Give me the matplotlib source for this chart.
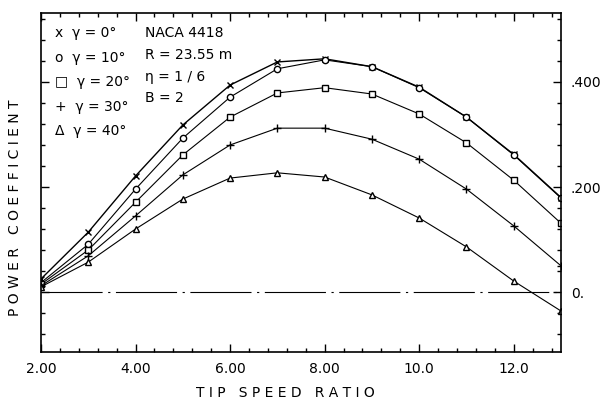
import matplotlib.pyplot as plt
from matplotlib.ticker import MultipleLocator, FixedLocator

# tip speed ratio
tsr = [2, 3, 4, 5, 6, 7, 8, 9, 10, 11, 12, 13]

# power coefficient
cp_0 = [0.025, 0.114, 0.221, 0.318, 0.394, 0.438, 0.444, 0.429, 0.390, 0.333, 0.262, 0.180]
cp_10 = [0.018, 0.091, 0.196, 0.293, 0.371, 0.425, 0.442, 0.429, 0.389, 0.333, 0.261, 0.179]
cp_20 = [0.015, 0.080, 0.171, 0.261, 0.333, 0.379, 0.389, 0.377, 0.339, 0.284, 0.213, 0.131]
cp_30 = [0.012, 0.069, 0.145, 0.223, 0.280, 0.312, 0.312, 0.291, 0.253, 0.196, 0.126, 0.050]
cp_40 = [0.010, 0.057, 0.120, 0.177, 0.217, 0.227, 0.219, 0.185, 0.141, 0.086, 0.021, -0.036]

xticks = [2, 4, 6, 8, 10, 12]
xtick_labels = ["2.00", "4.00", "6.00", "8.00", "10.0", "12.0"]
yticks = [0.0, 0.2, 0.4]
ytick_labels = ["0.", ".200", ".400"]

legend_lines = ["x  γ = 0°", "o  γ = 10°", "□  γ = 20°", "+  γ = 30°", "Δ  γ = 40°"]
info_lines = ["NACA 4418", "R = 23.55 m", "η = 1 / 6", "B = 2"]

fig = plt.figure(figsize=(6.08, 4.09), dpi=100)
ax = fig.add_axes([0.0674, 0.1394, 0.8553, 0.8286])

ax.plot(tsr, cp_0, color="black", lw=1.0, marker="x", ms=5, mew=1.0)
ax.plot(tsr, cp_10, color="black", lw=0.8, marker="o", ms=4.5, mfc="white", mew=1.0)
ax.plot(tsr, cp_20, color="black", lw=0.8, marker="s", ms=4.5, mfc="white", mew=1.0)
ax.plot(tsr, cp_30, color="black", lw=0.8, marker="+", ms=6, mew=1.0)
ax.plot(tsr, cp_40, color="black", lw=0.8, marker="^", ms=5, mfc="white", mew=1.0)

# zero line
ax.plot([2, 13], [0, 0], color="black", lw=0.8, dashes=(55, 5, 2, 5))

ax.set_xlim(2, 13)
ax.set_ylim(-0.114, 0.531)

ax.xaxis.set_major_locator(FixedLocator(xticks))
ax.set_xticklabels(xtick_labels)
ax.xaxis.set_minor_locator(MultipleLocator(0.4))
ax.yaxis.set_major_locator(FixedLocator(yticks))
ax.set_yticklabels(ytick_labels)
ax.yaxis.set_minor_locator(MultipleLocator(0.04))

ax.tick_params(which="both", direction="in", top=True, right=True, left=True,
               labelleft=False, labelright=True, labelsize=10, width=1.0)
ax.tick_params(which="major", length=6, pad=7)
ax.tick_params(which="minor", length=3)

for sp in ax.spines.values():
    sp.set_linewidth(1.2)

fig.text(285 / 608, 1 - 393 / 409, "T I P   S P E E D   R A T I O", fontsize=10,
         ha="center", va="center")
fig.text(15 / 608, 1 - 208 / 409, "P O W E R   C O E F F I C I E N T", fontsize=10,
         ha="center", va="center", rotation=90)

for i, t in enumerate(legend_lines):
    ax.text(0.027, 0.94 - i * 0.072, t, transform=ax.transAxes, fontsize=10, va="center")
for i, t in enumerate(info_lines):
    ax.text(0.2, 0.94 - i * 0.064, t, transform=ax.transAxes, fontsize=10, va="center")

fig.savefig("out.png", dpi=100)
